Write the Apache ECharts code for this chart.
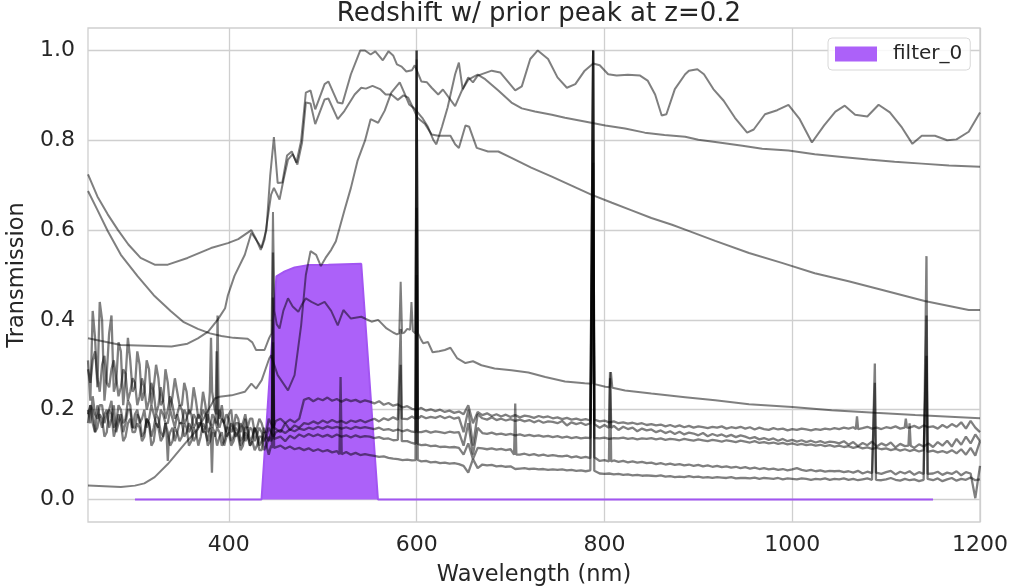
<!DOCTYPE html>
<html><head><meta charset="utf-8">
<script src="https://cdn.jsdelivr.net/npm/echarts@6/dist/echarts.min.js"></script>
<style>html,body{margin:0;padding:0;background:#fff}#chart{width:1013px;height:587px}</style>
</head><body><div id="chart"></div>
<script>
const xTicks=[400,600,800,1000,1200];
const yTicks=[0,0.2,0.4,0.6,0.8,1.0];
const filterName='filter_0';
const filterWave=[300,434.8,450.6,459.5,470,484,506,541,558.8,1150];
const filterVal=[0,0,0.497,0.508,0.517,0.522,0.523,0.525,0,0];

const t1Wave=[250,260,271,282,293,306,321,335,356,381,399,410,417,424,429,434,440,444,448,452,457,462,467,472,477,482,487,492,502,506,516,521,530,540,545,551,556,564,570,575,579,584,589,595,598,605,611,616,623,628,641,648,655,665,673,687,701,712,726,744,758,779,801,822,843,864,886,900,922,947,968,996,1024,1053,1081,1109,1138,1167,1200];
const t1Val=[0.724,0.675,0.635,0.60,0.568,0.538,0.523,0.523,0.538,0.56,0.571,0.58,0.59,0.60,0.58,0.556,0.60,0.72,0.807,0.705,0.706,0.766,0.775,0.75,0.799,0.906,0.911,0.869,0.925,0.931,0.884,0.882,0.947,1.0,1.0,0.991,0.998,0.978,0.998,0.989,0.969,0.964,0.953,0.956,0.967,0.931,0.929,0.917,0.902,0.913,0.876,0.91,0.935,0.946,0.936,0.911,0.884,0.871,0.864,0.857,0.85,0.842,0.833,0.826,0.817,0.812,0.808,0.801,0.795,0.788,0.781,0.777,0.769,0.763,0.757,0.752,0.748,0.744,0.741];

const t2Wave=[250,260,271,285,303,320,338,352,367,380,392,405,420,425,429,438,443,445.5,447,448.5,451,454,458,463,468,474,478,482,488,495,502,509,516,522,530,541,552,559,568,575,579,581.5,583,584.5,587,590,593,594.5,596,598.5,600,601.5,605,607,612,617,624,630,636,643,652,660,669,683,701,719,737,758,779,786.5,788,789.5,801,805.5,807,808.5,822,850,886,918,954,1000,1042,1088,1131,1200];
const t2Val=[0.687,0.645,0.598,0.545,0.497,0.455,0.42,0.395,0.38,0.37,0.364,0.36,0.358,0.35,0.333,0.333,0.36,0.37,0.64,0.42,0.39,0.381,0.42,0.448,0.43,0.418,0.435,0.448,0.44,0.433,0.44,0.42,0.388,0.422,0.403,0.407,0.396,0.40,0.381,0.372,0.368,0.37,0.485,0.37,0.372,0.38,0.378,0.44,0.375,0.37,0.98,0.37,0.355,0.348,0.351,0.328,0.33,0.333,0.338,0.315,0.304,0.308,0.299,0.292,0.288,0.283,0.273,0.263,0.259,0.258,0.6,0.257,0.251,0.25,0.284,0.249,0.243,0.236,0.228,0.221,0.212,0.206,0.199,0.193,0.188,0.181];

const t3Wave=[250,285,339,356,367,378,388,396,399,406,417,424,435,438,445,448,454,458,463,468,473,478,482,487,492,502,506,516,523,534,541,546,553,561,567,573,580,586,591,596,601,609,616,623,636,641,645,652,656,664,676,687,701,722,744,765,786,808,829,850,872,886,918,954,989,1024,1060,1095,1141,1188,1200];
const t3Val=[0.359,0.344,0.341,0.347,0.359,0.374,0.40,0.426,0.455,0.498,0.545,0.594,0.56,0.579,0.679,0.694,0.668,0.71,0.757,0.769,0.746,0.795,0.884,0.882,0.836,0.891,0.893,0.847,0.865,0.902,0.917,0.915,0.921,0.914,0.902,0.902,0.89,0.90,0.895,0.873,0.85,0.836,0.813,0.81,0.81,0.791,0.783,0.833,0.83,0.783,0.775,0.775,0.761,0.739,0.719,0.699,0.679,0.661,0.644,0.627,0.612,0.601,0.576,0.549,0.527,0.504,0.486,0.467,0.442,0.422,0.422];

const t4Wave=[250,285,300,310,321,335,353,367,378,385,390,403,417,424,429,435,443,445,452,463,470,477,482,487,493,498,503,509,514,518,523,530,537,545,551,559,566,573,582,587,592,598,606,612,618,621,627,633,641,645,649,655,660,665,680,689,705,712,721,729,740,750,760,769,779,788,795,804,813,825,838,846,854,861,866,875,886,890,899,906,916,927,939,952,959,971,984,996,1008,1021,1034,1046,1056,1067,1080,1092,1104,1117,1128,1138,1152,1165,1175,1188,1200];
const t4Val=[0.031,0.028,0.031,0.036,0.05,0.079,0.124,0.157,0.199,0.225,0.229,0.232,0.24,0.258,0.247,0.266,0.314,0.321,0.277,0.243,0.277,0.388,0.5,0.553,0.545,0.52,0.538,0.556,0.575,0.605,0.643,0.694,0.754,0.799,0.847,0.839,0.866,0.906,0.929,0.905,0.88,0.87,0.85,0.83,0.80,0.791,0.83,0.873,0.947,0.973,0.914,0.94,0.929,0.944,0.955,0.951,0.911,0.92,0.981,1.0,0.981,0.94,0.917,0.925,0.955,0.971,0.967,0.947,0.944,0.946,0.944,0.933,0.902,0.855,0.858,0.914,0.947,0.955,0.958,0.947,0.914,0.888,0.85,0.817,0.824,0.858,0.867,0.879,0.847,0.795,0.833,0.864,0.877,0.857,0.853,0.879,0.862,0.828,0.792,0.81,0.81,0.80,0.802,0.819,0.862];

const noiseWave=[
250,255,260,265,270,275,280,285,290,295,300,305,310,315,320,325,330,335,340,345,
350,355,360,365,370,375,380,385,390,395,400,405,410,415,420,425,430,435,440,445,
450,455,460,465,470,475,480,485,490,495,500,505,510,515,520,525,530,535,540,545,
550,555,560,565,570,575,580,585,590,595,600,605,610,615,620,625,630,635,640,645,
650,655,660,665,670,675,680,685,690,695,700,705,710,715,720,725,730,735,740,745,
750,755,760,765,770,775,780,785,790,795,800,805,810,815,820,825,830,835,840,845,
850,855,860,865,870,875,880,885,890,895,900,905,910,915,920,925,930,935,940,945,
950,955,960,965,970,975,980,985,990,995,1000,1005,1010,1015,1020,1025,1030,1035,1040,1045,
1050,1055,1060,1065,1070,1075,1080,1085,1090,1095,1100,1105,1110,1115,1120,1125,1130,1135,1140,1145,
1150,1155,1160,1165,1170,1175,1180,1185,1190,1195,1200];
// extra samples in the noisy ultraviolet part
const fineWave=[
252.5,257.5,262.5,267.5,272.5,277.5,282.5,287.5,292.5,297.5,302.5,307.5,312.5,317.5,322.5,327.5,332.5,337.5,342.5,347.5,
352.5,357.5,362.5,367.5,372.5,377.5,382.5,387.5,392.5,397.5,402.5,407.5,412.5,417.5,422.5,427.5,432.5,437.5,442.5,447.5];

const n1Val=[
0.20,0.23,0.18,0.21,0.19,0.22,0.17,0.20,0.18,0.21,0.19,0.17,0.20,0.18,0.19,0.16,0.19,0.17,0.18,0.19,
0.17,0.19,0.16,0.18,0.17,0.19,0.16,0.18,0.20,0.17,0.18,0.16,0.18,0.17,0.16,0.18,0.16,0.17,0.15,0.17,
0.175,0.18,0.17,0.178,0.172,0.18,0.222,0.226,0.219,0.225,0.221,0.227,0.22,0.224,0.218,0.223,0.219,0.222,0.217,0.221,
0.218,0.214,0.219,0.211,0.215,0.209,0.212,0.205,0.208,0.202,0.2,0.204,0.198,0.201,0.197,0.2,0.195,0.198,0.193,0.196,
0.19,0.21,0.17,0.195,0.188,0.192,0.186,0.19,0.185,0.189,0.184,0.188,0.183,0.187,0.185,0.182,0.186,0.183,0.185,0.181,
0.183,0.179,0.182,0.178,0.18,0.177,0.179,0.176,0.178,0.174,0.176,0.172,0.174,0.17,0.172,0.169,0.171,0.168,0.17,0.166,
0.168,0.165,0.167,0.163,0.166,0.162,0.165,0.161,0.164,0.16,0.163,0.161,0.159,0.162,0.16,0.163,0.158,0.161,0.159,0.162,
0.158,0.161,0.156,0.16,0.157,0.155,0.159,0.156,0.158,0.154,0.157,0.155,0.158,0.156,0.154,0.157,0.155,0.158,0.156,0.159,
0.157,0.16,0.158,0.161,0.157,0.159,0.162,0.158,0.16,0.157,0.161,0.159,0.163,0.158,0.162,0.16,0.164,0.159,0.165,0.161,
0.163,0.158,0.166,0.16,0.168,0.162,0.172,0.158,0.175,0.16,0.15];
const n1Fine=[
0.17,0.19,0.21,0.17,0.20,0.16,0.21,0.17,0.22,0.16,0.20,0.18,0.16,0.21,0.17,0.20,0.17,0.20,0.16,0.17,
0.20,0.15,0.19,0.16,0.20,0.15,0.19,0.16,0.18,0.19,0.15,0.19,0.15,0.19,0.18,0.15,0.18,0.15,0.18,0.16];
const n2Val=[
0.19,0.17,0.21,0.16,0.20,0.18,0.15,0.19,0.17,0.20,0.16,0.18,0.15,0.17,0.16,0.18,0.14,0.13,0.16,0.15,
0.17,0.15,0.16,0.14,0.17,0.15,0.16,0.14,0.15,0.13,0.16,0.14,0.15,0.13,0.16,0.14,0.15,0.13,0.14,0.15,
0.16,0.15,0.17,0.155,0.165,0.16,0.17,0.168,0.174,0.169,0.176,0.171,0.177,0.172,0.175,0.17,0.176,0.173,0.177,0.172,
0.176,0.18,0.174,0.181,0.177,0.183,0.178,0.182,0.179,0.185,0.18,0.186,0.181,0.184,0.182,0.186,0.181,0.185,0.18,0.183,
0.15,0.2,0.12,0.19,0.181,0.178,0.183,0.177,0.18,0.176,0.179,0.175,0.178,0.174,0.177,0.172,0.176,0.171,0.174,0.173,
0.17,0.175,0.165,0.172,0.168,0.171,0.166,0.17,0.168,0.16,0.166,0.158,0.164,0.155,0.162,0.157,0.16,0.152,0.158,0.154,
0.156,0.15,0.154,0.148,0.152,0.146,0.151,0.145,0.149,0.147,0.143,0.148,0.141,0.146,0.142,0.145,0.14,0.144,0.139,0.143,
0.14,0.136,0.139,0.134,0.137,0.133,0.136,0.131,0.135,0.13,0.133,0.129,0.132,0.128,0.131,0.127,0.13,0.126,0.129,0.128,
0.125,0.13,0.122,0.128,0.119,0.126,0.121,0.129,0.118,0.125,0.12,0.127,0.116,0.124,0.119,0.126,0.115,0.123,0.118,0.125,
0.117,0.128,0.12,0.131,0.118,0.135,0.122,0.14,0.125,0.145,0.13];
const n2Fine=[
0.21,0.15,0.18,0.19,0.16,0.21,0.17,0.15,0.20,0.16,0.19,0.14,0.18,0.14,0.19,0.15,0.17,0.15,0.13,0.17,
0.14,0.17,0.13,0.17,0.15,0.13,0.17,0.16,0.12,0.16,0.13,0.16,0.12,0.16,0.13,0.16,0.12,0.16,0.13,0.14];
const n3Val=[
0.29,0.31,0.27,0.30,0.26,0.29,0.27,0.25,0.28,0.24,0.26,0.23,0.25,0.22,0.24,0.21,0.22,0.20,0.21,0.19,
0.20,0.18,0.19,0.17,0.18,0.16,0.17,0.18,0.16,0.17,0.15,0.16,0.15,0.16,0.14,0.155,0.145,0.15,0.14,0.15,
0.15,0.155,0.148,0.156,0.152,0.158,0.155,0.16,0.157,0.162,0.158,0.163,0.159,0.162,0.158,0.161,0.157,0.162,0.159,0.161,
0.159,0.157,0.16,0.155,0.157,0.153,0.156,0.152,0.155,0.151,0.154,0.15,0.153,0.149,0.152,0.15,0.148,0.151,0.149,0.15,
0.12,0.17,0.1,0.16,0.148,0.146,0.149,0.145,0.147,0.144,0.146,0.143,0.145,0.142,0.144,0.141,0.143,0.14,0.142,0.139,
0.141,0.138,0.14,0.137,0.139,0.136,0.138,0.137,0.139,0.136,0.138,0.135,0.137,0.136,0.138,0.135,0.137,0.134,0.136,0.135,
0.137,0.134,0.136,0.133,0.135,0.134,0.132,0.135,0.133,0.131,0.134,0.132,0.13,0.133,0.131,0.129,0.132,0.13,0.128,0.131,
0.129,0.127,0.13,0.126,0.128,0.125,0.127,0.124,0.126,0.123,0.125,0.122,0.124,0.121,0.123,0.12,0.122,0.119,0.121,0.118,
0.12,0.117,0.119,0.115,0.118,0.114,0.116,0.113,0.115,0.112,0.114,0.11,0.113,0.109,0.112,0.108,0.111,0.107,0.11,0.106,
0.109,0.105,0.108,0.104,0.11,0.103,0.112,0.1,0.115,0.098,0.13];
const n3Fine=[
0.26,0.33,0.24,0.32,0.25,0.31,0.23,0.29,0.22,0.27,0.21,0.27,0.20,0.26,0.19,0.25,0.18,0.23,0.18,0.21,
0.17,0.20,0.16,0.19,0.15,0.19,0.16,0.15,0.18,0.14,0.17,0.14,0.17,0.13,0.16,0.13,0.16,0.13,0.16,0.14];
const n4Val=[
0.17,0.20,0.16,0.18,0.15,0.19,0.16,0.17,0.14,0.18,0.15,0.16,0.14,0.17,0.13,0.16,0.14,0.15,0.13,0.15,
0.14,0.16,0.13,0.15,0.14,0.16,0.13,0.15,0.14,0.12,0.15,0.13,0.14,0.12,0.14,0.13,0.12,0.14,0.12,0.13,
0.135,0.14,0.13,0.142,0.136,0.145,0.14,0.146,0.141,0.145,0.14,0.144,0.139,0.145,0.14,0.143,0.138,0.143,0.139,0.141,
0.14,0.137,0.139,0.135,0.136,0.132,0.133,0.129,0.13,0.126,0.124,0.121,0.122,0.119,0.12,0.117,0.118,0.116,0.117,0.115,
0.10,0.125,0.09,0.115,0.114,0.112,0.114,0.111,0.113,0.11,0.112,0.101,0.1,0.102,0.099,0.101,0.098,0.1,0.097,0.099,
0.097,0.096,0.098,0.094,0.096,0.093,0.095,0.092,0.094,0.086,0.088,0.085,0.087,0.084,0.086,0.083,0.085,0.082,0.084,0.081,
0.082,0.079,0.081,0.078,0.08,0.077,0.079,0.076,0.078,0.075,0.077,0.074,0.076,0.073,0.075,0.072,0.074,0.071,0.073,0.07,
0.072,0.069,0.071,0.068,0.07,0.067,0.069,0.066,0.068,0.065,0.067,0.07,0.066,0.064,0.066,0.063,0.065,0.062,0.064,0.063,
0.064,0.061,0.063,0.06,0.064,0.058,0.062,0.059,0.063,0.057,0.061,0.064,0.056,0.062,0.058,0.063,0.055,0.061,0.057,0.06,
0.058,0.062,0.055,0.06,0.057,0.063,0.054,0.061,0.058,0.003,0.075];
const n4Fine=[
0.21,0.15,0.19,0.14,0.20,0.14,0.19,0.13,0.17,0.15,0.17,0.13,0.18,0.12,0.17,0.13,0.17,0.12,0.16,0.13,
0.17,0.12,0.16,0.12,0.17,0.12,0.16,0.12,0.15,0.14,0.12,0.15,0.11,0.15,0.12,0.11,0.14,0.11,0.14,0.12];
const n5Val=[
0.31,0.42,0.25,0.40,0.28,0.41,0.26,0.33,0.27,0.31,0.25,0.30,0.24,0.29,0.25,0.27,0.22,0.26,0.23,0.24,
0.21,0.24,0.20,0.22,0.19,0.21,0.24,0.20,0.18,0.17,0.19,0.15,0.17,0.14,0.15,0.13,0.14,0.11,0.12,0.12,
0.115,0.12,0.113,0.118,0.112,0.115,0.11,0.114,0.108,0.112,0.107,0.11,0.105,0.108,0.103,0.106,0.1,0.104,0.099,0.101,
0.099,0.097,0.095,0.096,0.093,0.091,0.09,0.088,0.089,0.087,0.088,0.085,0.086,0.083,0.084,0.081,0.082,0.08,0.081,0.079,
0.075,0.06,0.09,0.07,0.078,0.076,0.077,0.074,0.075,0.073,0.074,0.068,0.069,0.07,0.068,0.069,0.067,0.068,0.066,0.067,
0.066,0.067,0.065,0.066,0.064,0.065,0.063,0.065,0.064,0.058,0.057,0.058,0.056,0.057,0.055,0.056,0.054,0.055,0.053,0.054,
0.053,0.052,0.054,0.051,0.052,0.05,0.051,0.05,0.052,0.05,0.051,0.049,0.05,0.048,0.05,0.049,0.048,0.05,0.047,0.048,
0.048,0.047,0.049,0.046,0.048,0.047,0.046,0.048,0.045,0.047,0.046,0.045,0.047,0.046,0.044,0.046,0.045,0.047,0.044,0.046,
0.045,0.047,0.044,0.046,0.043,0.045,0.047,0.044,0.046,0.043,0.045,0.048,0.044,0.042,0.046,0.043,0.045,0.041,0.044,0.046,
0.043,0.047,0.041,0.045,0.048,0.042,0.046,0.044,0.049,0.043,0.045];
const n5Fine=[
0.22,0.36,0.44,0.22,0.37,0.24,0.35,0.21,0.36,0.24,0.33,0.22,0.31,0.21,0.30,0.21,0.29,0.20,0.27,0.21,
0.26,0.19,0.25,0.18,0.24,0.17,0.27,0.16,0.21,0.15,0.20,0.17,0.13,0.18,0.12,0.16,0.11,0.15,0.10,0.14];

// emission / absorption lines: [wavelength, local level, peak]
const n1Lines=[[788,0.178,1.0],[1069,0.157,0.185],[1121,0.16,0.18]];
const n2Lines=[[335,0.14,0.086],[382,0.15,0.06],[447,0.16,0.55],[583,0.18,0.38],[600,0.18,1.0],[788,0.168,1.0],[806,0.16,0.284],[1125,0.12,0.17]];
const n3Lines=[[387,0.17,0.33],[600,0.15,0.65],[788,0.137,0.75],[1143,0.106,0.32]];
const n4Lines=[[447,0.135,0.45],[583,0.13,0.3],[600,0.124,1.0],[705,0.1,0.214],[788,0.094,1.0],[806,0.085,0.27],[1088,0.06,0.26],[1143,0.057,0.41]];
const n5Lines=[[381,0.24,0.36],[388,0.19,0.41],[447,0.115,0.35],[519,0.101,0.273],[600,0.088,0.5],[788,0.064,0.8],[1088,0.044,0.303],[1143,0.046,0.542]];

function pairs(w,v){return w.map((x,i)=>[x,v[i]]);}
function withLines(w,v,lines){
  const pts=[];
  w.forEach((x,i)=>{ if(!lines.some(l=>Math.abs(l[0]-x)<=1.5)) pts.push([x,v[i]]); });
  lines.forEach(l=>{ pts.push([l[0]-1.2,l[1]],[l[0],l[2]],[l[0]+1.2,l[1]]); });
  pts.sort((a,b)=>a[0]-b[0]);
  return pts;
}
const allWave=noiseWave.concat(fineWave);

const templates=[pairs(t1Wave,t1Val), pairs(t2Wave,t2Val), pairs(t3Wave,t3Val), pairs(t4Wave,t4Val)];
const noisy=[
  withLines(allWave,n1Val.concat(n1Fine),n1Lines),
  withLines(allWave,n2Val.concat(n2Fine),n2Lines),
  withLines(allWave,n3Val.concat(n3Fine),n3Lines),
  withLines(allWave,n4Val.concat(n4Fine),n4Lines),
  withLines(allWave,n5Val.concat(n5Fine),n5Lines)];

const txt='#262626', font='DejaVu Sans', gridCol='#cfcfcf';
const series=[{
  name:filterName, type:'line', data:pairs(filterWave,filterVal), showSymbol:false, symbol:'none',
  color:'#ac61f9', lineStyle:{color:'#a255f2', width:2}, areaStyle:{color:'#ac61f9', opacity:1}, zlevel:0, z:1
}];
templates.forEach((d,i)=>series.push({name:'tmpl'+i, type:'line', data:d, showSymbol:false, symbol:'none',
  lineStyle:{color:'rgba(0,0,0,0.5)', width:2}, zlevel:1, z:3, silent:true}));
noisy.forEach((d,i)=>series.push({name:'obs'+i, type:'line', data:d, showSymbol:false, symbol:'none',
  lineStyle:{color:'rgba(0,0,0,0.5)', width:2.3}, zlevel:1, z:3, silent:true}));

const chart=echarts.init(document.getElementById('chart'),null,{renderer:'canvas'});
chart.setOption({
  animation:false,
  backgroundColor:'#ffffff',
  title:{text:'Redshift w/ prior peak at z=0.2', left:534, top:-4, textAlign:'center', zlevel:0,
    textStyle:{fontSize:26, fontWeight:'normal', color:txt, fontFamily:font}},
  grid:{left:88, right:33, top:28, bottom:65, show:true, containLabel:false, outerBoundsMode:'none',
    borderColor:gridCol, borderWidth:1.3, backgroundColor:'transparent'},
  legend:{left:828, top:38, zlevel:2, data:[{name:filterName, icon:'rect'}], itemWidth:42, itemHeight:15,
    backgroundColor:'rgba(255,255,255,0.85)', borderColor:'#d8d8d8', borderWidth:1, borderRadius:4,
    padding:[6,8,6,7], textStyle:{fontSize:20, color:txt, fontFamily:font, padding:[0,0,0,11]}},
  xAxis:{type:'value', min:250, max:1200,
    axisLine:{show:false}, axisTick:{show:false, customValues:xTicks},
    axisLabel:{customValues:xTicks, fontSize:22, color:txt, fontFamily:font, margin:12, formatter:v=>String(v)},
    splitLine:{show:true, lineStyle:{color:gridCol, width:1.3}},
    name:'Wavelength (nm)', nameLocation:'middle', nameGap:42,
    nameTextStyle:{fontSize:22.5, color:txt, fontFamily:font}},
  yAxis:{type:'value', min:-0.05, max:1.05,
    axisLine:{show:false}, axisTick:{show:false, customValues:yTicks},
    axisLabel:{customValues:yTicks, fontSize:22, color:txt, fontFamily:font, margin:13, formatter:v=>v.toFixed(1)},
    splitLine:{show:true, lineStyle:{color:gridCol, width:1.3}},
    name:'Transmission', nameLocation:'middle', nameGap:57,
    nameTextStyle:{fontSize:22.5, color:txt, fontFamily:font}},
  series:series
});
</script></body></html>
